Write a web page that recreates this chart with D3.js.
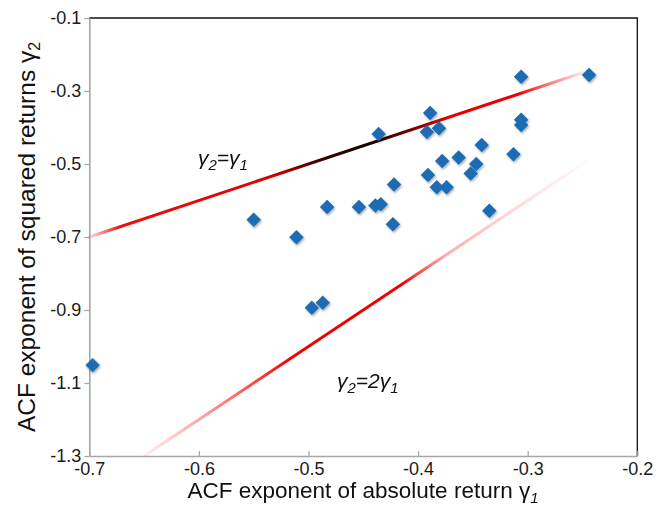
<!DOCTYPE html>
<html>
<head>
<meta charset="utf-8">
<script src="https://cdn.jsdelivr.net/npm/d3@7"></script>
<style>
  html, body { margin: 0; padding: 0; background: #ffffff; }
  svg { display: block; font-family: "Liberation Sans", Arial, sans-serif; }
</style>
</head>
<body>
<svg id="chart" width="668" height="507"></svg>
<script>
// ---- data ----
const gamma1 = [-0.244, -0.306, -0.306, -0.306, -0.389, -0.392, -0.381, -0.436, -0.342, -0.313,
                -0.378, -0.363, -0.347, -0.352, -0.391, -0.383, -0.374, -0.335, -0.422, -0.550,
                -0.511, -0.483, -0.454, -0.439, -0.434, -0.423, -0.497, -0.487, -0.697];
const gamma2 = [-0.256, -0.261, -0.379, -0.393, -0.360, -0.412, -0.402, -0.418, -0.448, -0.473,
                -0.492, -0.482, -0.500, -0.526, -0.530, -0.564, -0.564, -0.628, -0.556, -0.653,
                -0.701, -0.618, -0.618, -0.614, -0.610, -0.665, -0.894, -0.880, -1.051];
const xTicks = [-0.7, -0.6, -0.5, -0.4, -0.3, -0.2];
const yTicks = [-0.1, -0.3, -0.5, -0.7, -0.9, -1.1, -1.3];
const xDomain = [-0.7, -0.2];
const yDomain = [-1.3, -0.1];
// reference lines: gamma2 = slope * gamma1, drawn between these gamma1 values
const refSlopes = [1, 2];
const refX = [[-0.7, -0.245], [-0.65, -0.245]];
const refLabels = [["γ", "2", "=γ", "1"], ["γ", "2", "=2γ", "1"]];
const xTitle = "ACF exponent of absolute return γ";
const yTitle = "ACF exponent of squared returns γ";

// ---- layout ----
const svg = d3.select("#chart");
const x = d3.scaleLinear().domain(xDomain).range([89.3, 637.3]);
const y = d3.scaleLinear().domain(yDomain).range([456, 18]);
const fmt = d => d.toFixed(1);

const defs = svg.append("defs");
const shadow = defs.append("filter").attr("id", "shadow")
  .attr("x", "-50%").attr("y", "-50%").attr("width", "200%").attr("height", "200%");
shadow.append("feDropShadow").attr("dx", 1).attr("dy", 1.5).attr("stdDeviation", 1.2)
  .attr("flood-color", "#000").attr("flood-opacity", 0.35);

// gradients for reference lines
const gradStops = [
  [[0, "#ff2020", 0.15], [0.06, "#ee1111", 1], [0.36, "#e00000", 1], [0.47, "#300000", 1],
   [0.56, "#1a0000", 1], [0.64, "#700000", 1], [0.72, "#e80000", 1], [0.86, "#f00000", 1], [1, "#ff4040", 0.08]],
  [[0, "#ff3030", 0.08], [0.2, "#ff1010", 0.6], [0.33, "#f00000", 1], [0.58, "#f00000", 1],
   [0.68, "#ff3030", 0.4], [0.85, "#ff5050", 0.2], [1, "#ff6060", 0.03]]
];
refSlopes.forEach((s, i) => {
  const g = defs.append("linearGradient").attr("id", "grad" + i)
    .attr("gradientUnits", "userSpaceOnUse")
    .attr("x1", x(refX[i][0])).attr("y1", y(s * refX[i][0]))
    .attr("x2", x(refX[i][1])).attr("y2", y(s * refX[i][1]));
  gradStops[i].forEach(st => g.append("stop").attr("offset", st[0])
    .attr("stop-color", st[1]).attr("stop-opacity", st[2]));
});

// frame (top and right)
svg.append("path")
  .attr("d", `M${x(xDomain[0])},${y(yDomain[1])}H${x(xDomain[1])}V${y(yDomain[0])}`)
  .attr("fill", "none").attr("stroke", "#111").attr("stroke-width", 1.3);

// axes
const xAxis = svg.append("g").attr("transform", `translate(0,${y(yDomain[0])})`)
  .call(d3.axisBottom(x).tickValues(xTicks).tickFormat(fmt).tickSizeInner(-5).tickSizeOuter(0).tickPadding(6));
const yAxis = svg.append("g").attr("transform", `translate(${x(xDomain[0])},0)`)
  .call(d3.axisLeft(y).tickValues(yTicks).tickFormat(fmt).tickSizeInner(5).tickSizeOuter(0).tickPadding(3));
[xAxis, yAxis].forEach(a => {
  a.select(".domain").attr("stroke", "#a6a6a6").attr("stroke-width", 1.6);
  a.selectAll(".tick line").attr("stroke", "#a6a6a6").attr("stroke-width", 1.2);
  a.selectAll(".tick text").attr("fill", "#1a1a1a").attr("font-size", 18)
    .attr("font-family", "'Liberation Sans', Arial, sans-serif");
});

// reference lines
refSlopes.forEach((s, i) => {
  svg.append("line")
    .attr("x1", x(refX[i][0])).attr("y1", y(s * refX[i][0]))
    .attr("x2", x(refX[i][1])).attr("y2", y(s * refX[i][1]))
    .attr("stroke", `url(#grad${i})`).attr("stroke-width", 3).attr("stroke-linecap", "round");
});

// points
const sym = d3.symbol().type(d3.symbolSquare).size(105);
svg.append("g").attr("filter", "url(#shadow)")
  .selectAll("path").data(gamma1.map((g, i) => [g, gamma2[i]])).join("path")
  .attr("d", sym)
  .attr("transform", d => `translate(${x(d[0])},${y(d[1])}) rotate(45)`)
  .attr("fill", "#1f6cb4");

// line labels
const labelPos = [[198, 165], [337, 388]];
refLabels.forEach((parts, i) => {
  const t = svg.append("text").attr("x", labelPos[i][0]).attr("y", labelPos[i][1])
    .attr("font-size", 21).attr("font-style", "italic").attr("fill", "#111");
  parts.forEach((p, k) => {
    const ts = t.append("tspan").text(p);
    if (k % 2 === 1) ts.attr("font-size", 15).attr("dy", 5);
    else if (k > 0) ts.attr("dy", -5);
  });
});

// axis titles
const xt = svg.append("text").attr("x", 363).attr("y", 498).attr("text-anchor", "middle")
  .attr("font-size", 22.5).attr("fill", "#111");
xt.append("tspan").text(xTitle);
xt.append("tspan").text("1").attr("font-size", 15).attr("dy", 5).attr("font-style", "italic");

const yt = svg.append("text").attr("transform", "translate(35,237) rotate(-90)")
  .attr("text-anchor", "middle").attr("font-size", 24.5).attr("fill", "#111");
yt.append("tspan").text(yTitle);
yt.append("tspan").text("2").attr("font-size", 16).attr("dy", 5);
</script>
</body>
</html>
